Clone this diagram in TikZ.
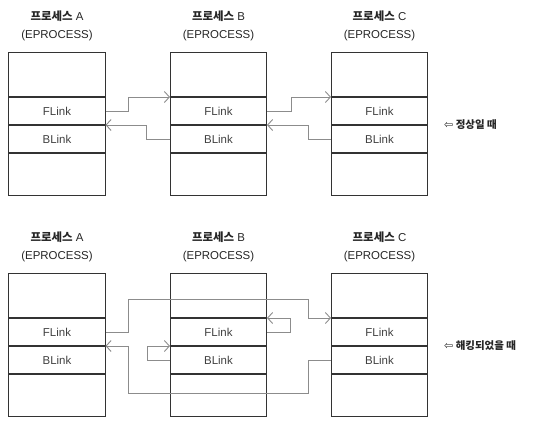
\documentclass[tikz,border=0pt]{standalone}
\usepackage{fontspec}
\setmainfont{Liberation Sans}
\newfontfamily\kr{Noto Sans CJK KR}
\newfontfamily\sym{DejaVu Sans}
\usetikzlibrary{arrows.meta, positioning}
\tikzset{
	cell/.style={draw=black!80, line width=1bp, minimum width=96bp, inner sep=0pt,
		text=black!75, font=\fontsize{11.5}{13}\selectfont},
	headcell/.style={cell, minimum height=44bp},
	linkcell/.style={cell, minimum height=27bp},
	tailcell/.style={cell, minimum height=42bp},
	title/.style={align=center, inner sep=0pt, text=black!85, font=\fontsize{11.5}{18}\selectfont},
	note/.style={anchor=west, inner sep=0pt, text=black!85, font=\kr\bfseries\fontsize{10.5}{12}\selectfont},
	link/.style={draw=black!45, line width=0.9bp, -{Straight Barb[length=5bp,width=11bp]}}
}
\begin{document}
\begin{tikzpicture}[x=1bp, y=-1bp]
		% page frame, same size as the reference
		\useasboundingbox (0,0) rectangle (540,422);
		
		% EPROCESS blocks: n = normal (top), h = hacked (bottom)
		\foreach \p/\x in {A/57, B/218.5, C/379.5} {
			\foreach \s/\y in {n/52, h/273} {
				\node[headcell, anchor=north] (\s\p-top) at (\x,\y) {};
				\node[linkcell, below=0pt of \s\p-top] (\s\p-f) {FLink};
				\node[linkcell, below=0pt of \s\p-f] (\s\p-b) {BLink};
				\node[tailcell, below=0pt of \s\p-b] (\s\p-bot) {};
				% process name above the block
				\node[title, above=11bp of \s\p-top] (\s\p-name) {{\kr\bfseries 프로세스} \p\\(EPROCESS)};
			}
		}
		
		% normal list: A <-> B <-> C
		\draw[link] (nA-f.east) -- ++(23,0) |- (nB-f.north west);
		\draw[link] (nB-b.west) -- ++(-24,0) |- (nA-b.north east);
		\draw[link] (nB-f.east) -- ++(24,0) |- (nC-f.north west);
		\draw[link] (nC-b.west) -- ++(-23,0) |- (nB-b.north east);
		
		% hacked list: B unlinked, its links point to itself
		\draw[link] (hA-f.east) -- ++(23,0) -- ++(0,-33) -| ([xshift=-23bp]hC-f.north west) -- (hC-f.north west);
		\draw[link] (hC-b.west) -- ++(-23,0) -- ++(0,33) -| ([xshift=23bp]hA-b.north east) -- (hA-b.north east);
		\draw[link] (hB-b.west) -- ++(-23,0) |- (hB-b.north west);
		\draw[link] (hB-f.east) -- ++(23,0) |- (hB-f.north east);
		
		% captions on the right
		\node[note] (noteN) at ([xshift=16bp]nC-b.north east) {{\sym\mdseries\fontsize{11}{12}\selectfont ⇦} 정상일 때};
		\node[note] (noteH) at ([xshift=16bp]hC-b.north east) {{\sym\mdseries\fontsize{11}{12}\selectfont ⇦} 해킹되었을 때};
		
	\end{tikzpicture}
\end{document}
